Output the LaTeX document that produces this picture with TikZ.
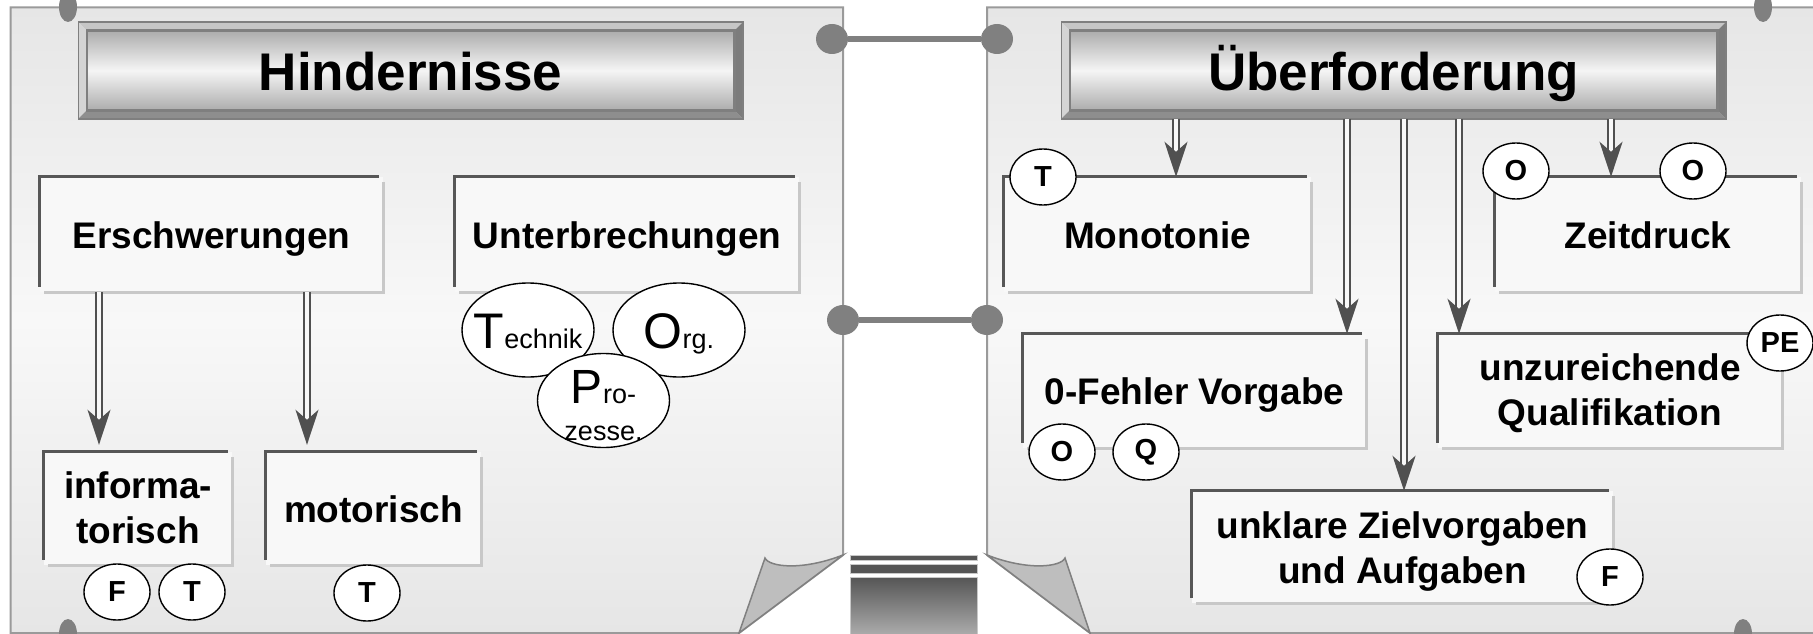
\documentclass[tikz,border=0pt]{standalone}
\usepackage{fontspec}
\setmainfont{Liberation Sans}
\usetikzlibrary{shapes.geometric,arrows.meta}

\definecolor{panelrim}{HTML}{9A9A9A}
\definecolor{panelhi}{HTML}{F8F8F8}
\definecolor{panello}{HTML}{E6E6E6}
\definecolor{tackgray}{HTML}{808080}
\definecolor{darkline}{HTML}{575757}
\definecolor{lightline}{HTML}{C8C8C8}
\definecolor{boxfill}{HTML}{F8F8F8}
\definecolor{arrowgray}{HTML}{505050}
\definecolor{flapgray}{HTML}{BEBEBE}
\definecolor{titleedge}{HTML}{ADADAD}
\definecolor{titlemid}{HTML}{F5F5F5}
\definecolor{titlerim}{HTML}{7F7F7F}
\definecolor{bevtop}{HTML}{C6C6C6}
\definecolor{bevleft}{HTML}{D4D4D4}
\definecolor{bevbot}{HTML}{8E8E8E}
\definecolor{bevright}{HTML}{7C7C7C}
\definecolor{bardark}{HTML}{555555}
\definecolor{barlight}{HTML}{B4B4B4}

% bevelled frame around a title node (8pt wide)
\newcommand\bevelframe[1]{%
  \fill[bevtop] ([shift={(-8pt,8pt)}]#1.north west) -- ([shift={(8pt,8pt)}]#1.north east)
     -- (#1.north east) -- (#1.north west) -- cycle;
  \fill[bevleft] ([shift={(-8pt,8pt)}]#1.north west) -- (#1.north west)
     -- (#1.south west) -- ([shift={(-8pt,-8pt)}]#1.south west) -- cycle;
  \fill[bevbot] ([shift={(-8pt,-8pt)}]#1.south west) -- (#1.south west)
     -- (#1.south east) -- ([shift={(8pt,-8pt)}]#1.south east) -- cycle;
  \fill[bevright] ([shift={(8pt,8pt)}]#1.north east) -- ([shift={(8pt,-8pt)}]#1.south east)
     -- (#1.south east) -- (#1.north east) -- cycle;
  \draw[titlerim, line width=1.5] ([shift={(-8pt,8pt)}]#1.north west) rectangle ([shift={(8pt,-8pt)}]#1.south east);
  \draw[titlerim, line width=1.5] (#1.north west) rectangle (#1.south east);
}

% dark top/left edges and light bottom/right edges of a category box
\newcommand\catframe[1]{%
  \draw[lightline, line width=3] ([yshift=-5pt]#1.north east) -- (#1.south east) -- ([xshift=4pt]#1.south west);
  \draw[darkline, line width=3] ([xshift=-4pt]#1.north east) -- (#1.north west) -- ([yshift=5pt]#1.south west);
}

\begin{document}
\begin{tikzpicture}[x=1pt, y=-1pt,
  tack/.style={ellipse, fill=tackgray, inner sep=0pt, minimum width=32, minimum height=30},
  cornertack/.style={ellipse, fill=tackgray, inner sep=0pt, minimum width=18, minimum height=30},
  tackline/.style={draw=tackgray, line width=6},
  titlebox/.style={rectangle, top color=titleedge, bottom color=titleedge, middle color=titlemid,
    draw=titlerim, line width=1.5, minimum width=647, minimum height=79, inner sep=0pt,
    text height=40pt, text depth=0pt, font=\bfseries\fontsize{53}{53}\selectfont},
  catbox/.style={rectangle, fill=boxfill, inner sep=0pt, align=center,
    font=\bfseries\fontsize{37}{45}\selectfont},
  oneline/.style={text height=27pt, text depth=0pt},
  tagc/.style={ellipse, draw=black, line width=1.4, fill=white, inner sep=0pt,
    minimum width=66, minimum height=56, font=\bfseries\fontsize{29}{29}\selectfont},
  bubble/.style={ellipse, draw=black, line width=1.4, fill=white, inner sep=-14pt,
    minimum width=132, minimum height=94, align=center, font=\fontsize{27}{37}\selectfont},
  dblarrow/.style={draw=arrowgray, double=panelhi, double distance=3.5pt, line width=2.2pt,
    -{Stealth[length=35pt, width=23pt, inset=10pt]}}
]
\useasboundingbox (0,0) rectangle (1813,634);
\clip (0,0) rectangle (1813,634);

% ---------- the two sheets ----------
\shade[top color=panello, bottom color=panello, middle color=panelhi]
  (10.5,7.5) -- (843,7.5) -- (843,555) -- (739,633) -- (10.5,633) -- cycle;
\draw[panelrim, line width=2]
  (10.5,7.5) -- (843,7.5) -- (843,555) -- (739,633) -- (10.5,633) -- cycle;
\shade[top color=panello, bottom color=panello, middle color=panelhi]
  (987,7.5) -- (1830,7.5) -- (1830,633) -- (1090,633) -- (987,555) -- cycle;
\draw[panelrim, line width=2]
  (987,7.5) -- (1830,7.5) -- (1830,633) -- (1090,633) -- (987,555) -- cycle;

% curled corners
\filldraw[fill=flapgray, draw=tackgray, line width=1.5]
  (843,555) -- (739,633) -- (765,558) .. controls (769,567) and (802,571) .. (843,555) -- cycle;
\filldraw[fill=flapgray, draw=tackgray, line width=1.5]
  (987,555) -- (1090,633) -- (1065,558) .. controls (1061,567) and (1028,571) .. (987,555) -- cycle;

% pins at the sheet corners
\node[cornertack] (pinTL) at (68,7) {};
\node[cornertack] (pinBL) at (68,634) {};
\node[cornertack] (pinTR) at (1763,7) {};
\node[cornertack] (pinBR) at (1743,634) {};

% hinges joining the sheets
\node[tack] (h1) at (832,39) {};
\node[tack] (h2) at (997,39) {};
\node[tack] (h3) at (843,320) {};
\node[tack] (h4) at (987,320) {};
\draw[tackline] (h1) -- (h2);
\draw[tackline] (h3) -- (h4);

% striped block between the sheets
\draw[lightline, line width=1, fill=bardark] (850,555) rectangle (977,560.5);
\draw[lightline, line width=1, fill=bardark] (850,564) rectangle (977,573.5);
\shade[top color=bardark, bottom color=barlight, draw=lightline, line width=1] (850,577) rectangle (977,640);

% ---------- titles ----------
\node[titlebox] (ltitle) at (410.5,70.5) {Hindernisse};
\bevelframe{ltitle}
\node[titlebox] (rtitle) at (1393.5,70.5) {Überforderung};
\bevelframe{rtitle}

% ---------- left sheet ----------
% (two-line texts: text height runs from the first line's top to the last baseline)
\node[catbox, oneline, minimum width=343, minimum height=115] (ersch) at (211.5,234.5) {Erschwerungen};
\node[catbox, oneline, minimum width=344, minimum height=115] (unterb) at (627,234.5) {Unterbrechungen};
\node[catbox, text height=72pt, text depth=3pt, minimum width=188, minimum height=113] (inform) at (138,508.5) {informa-\\torisch};
\node[catbox, oneline, minimum width=215, minimum height=113] (motor) at (373.5,508.5) {motorisch};
\catframe{ersch}
\catframe{unterb}
\catframe{inform}
\catframe{motor}

\coordinate (colA) at (99,0);
\coordinate (colB) at (307,0);
\draw[dblarrow, shorten >=7pt] (ersch.south -| colA) -- (inform.north -| colA);
\draw[dblarrow, shorten >=7pt] (ersch.south -| colB) -- (motor.north -| colB);

\node[bubble, text height=36pt, text depth=0pt] (tech) at (528,330) {{\fontsize{50}{50}\selectfont T}echnik};
\node[bubble, text height=36pt, text depth=0pt] (orga) at (679,330) {{\fontsize{50}{50}\selectfont O}rg.};
\node[bubble, text height=79pt, text depth=0pt] (proz) at (603.5,400.5) {{\fontsize{48}{48}\selectfont P}ro-\\zesse.};

\node[tagc] (tagF1) at (117,592) {F};
\node[tagc] (tagT1) at (192,592) {T};
\node[tagc] (tagT2) at (367,593) {T};

% ---------- right sheet ----------
\node[catbox, oneline, minimum width=307, minimum height=115] (mono) at (1157.5,234.5) {Monotonie};
\node[catbox, oneline, minimum width=306, minimum height=115] (zeit) at (1648,234.5) {Zeitdruck};
\node[catbox, oneline, minimum width=343, minimum height=114] (nullf) at (1194.5,391) {0-Fehler Vorgabe};
\node[catbox, text height=72pt, text depth=4pt, minimum width=344, minimum height=114] (unzur) at (1610,391) {unzureichende\\Qualifikation};
\node[catbox, text height=72pt, text depth=0pt, minimum width=421, minimum height=112] (unklar) at (1402.5,547) {unklare Zielvorgaben\\und Aufgaben};
\catframe{mono}
\catframe{zeit}
\catframe{nullf}
\catframe{unzur}
\catframe{unklar}

\coordinate (colC) at (1176,0);
\coordinate (colD) at (1347,0);
\coordinate (colE) at (1404,0);
\coordinate (colF) at (1459,0);
\coordinate (colG) at (1611,0);
\draw[dblarrow, shorten <=8pt] (rtitle.south -| colC) -- (mono.north -| colC);
\draw[dblarrow, shorten <=8pt] (rtitle.south -| colD) -- (nullf.north -| colD);
\draw[dblarrow, shorten <=8pt] (rtitle.south -| colE) -- (unklar.north -| colE);
\draw[dblarrow, shorten <=8pt] (rtitle.south -| colF) -- (unzur.north -| colF);
\draw[dblarrow, shorten <=8pt] (rtitle.south -| colG) -- (zeit.north -| colG);

\node[tagc] (tagT3) at (1043,177) {T};
\node[tagc] (tagO1) at (1516,171) {O};
\node[tagc] (tagO2) at (1693,171) {O};
\node[tagc] (tagPE) at (1780,343) {PE};
\node[tagc] (tagO3) at (1062,452) {O};
\node[tagc] (tagQ) at (1146,452) {Q};
\node[tagc] (tagF2) at (1610,577) {F};
\end{tikzpicture}
\end{document}
